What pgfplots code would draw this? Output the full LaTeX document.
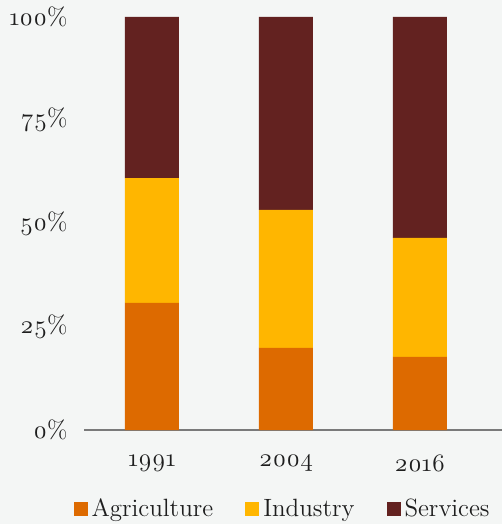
\documentclass[border=0pt]{standalone}
\usepackage{fontspec}
\setmainfont{Latin Modern Roman}[Numbers=OldStyle]
\usepackage{pgfplots}
\pgfplotsset{compat=1.18}
\definecolor{bg}{HTML}{F4F6F5}
\definecolor{agri}{HTML}{DD6A00}
\definecolor{indu}{HTML}{FFB600}
\definecolor{serv}{HTML}{632220}
\definecolor{axgray}{HTML}{7A7A7A}
\definecolor{txt}{HTML}{1E1E1E}
\begin{document}
\begin{tikzpicture}
\fill[bg] (0,0) rectangle (251pt,262pt);
\begin{axis}[
  at={(42pt,47pt)}, anchor=south west,
  scale only axis, width=209pt, height=206.5pt,
  ybar stacked, bar width=27pt,
  xmin=-0.507, xmax=2.612, ymin=0, ymax=100,
  axis x line*=bottom, axis y line*=left,
  x axis line style={draw=axgray, line width=0.8pt, -},
  y axis line style={draw=none},
  major tick length=0pt,
  xtick={0,1,2}, xticklabels={1991,2004,2016},
  ytick={0,25,50,75,100},
  yticklabel={\pgfmathprintnumber{\tick}\%},
  /pgf/number format/assume math mode=true,
  tick label style={font=\fontsize{12.5}{14}\selectfont, text=txt},
  yticklabel style={anchor=east, inner sep=0pt, xshift=-8pt},
  xticklabel style={anchor=north, inner sep=0pt, yshift=-12pt},
  legend style={at={(-0.026,-0.191)}, anchor=west, draw=none, fill=none,
    font=\fontsize{12.5}{14}\selectfont, text=txt, legend columns=3,
    /tikz/every even column/.append style={column sep=14pt}, inner sep=0pt},
  legend image code/.code={\fill[#1] (0pt,-3.5pt) rectangle (7pt,3.5pt);},
  every axis plot/.append style={draw=none},
]
\addplot[fill=agri] coordinates {(0,30.8) (1,19.9) (2,17.7)};
\addplot[fill=indu] coordinates {(0,30.2) (1,33.4) (2,28.8)};
\addplot[fill=serv] coordinates {(0,39.0) (1,46.7) (2,53.5)};
\legend{Agriculture,Industry,Services}
\end{axis}
\end{tikzpicture}
\end{document}
